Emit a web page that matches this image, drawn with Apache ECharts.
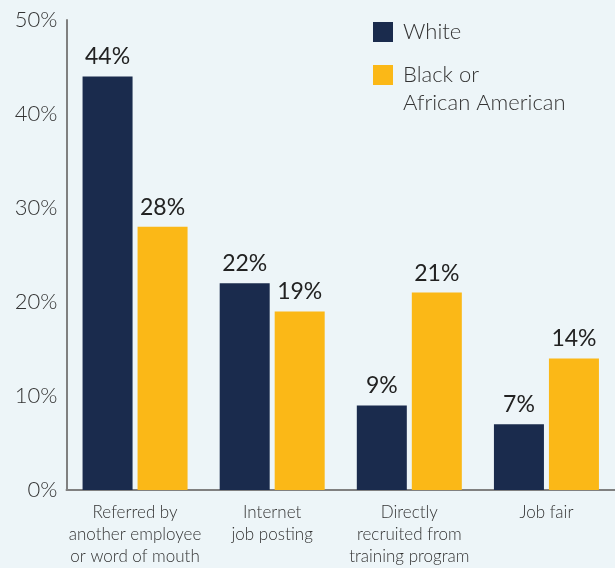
<!DOCTYPE html>
<html>
<head>
<meta charset="utf-8">
<script src="https://cdn.jsdelivr.net/npm/echarts@6/dist/echarts.min.js"></script>
<style>
html, body { margin: 0; padding: 0; background: #edf5f8; }
#main { width: 615px; height: 568px; }
</style>
</head>
<body>
<div id="main"></div>
<script>
// data
var categories = ['Referred by\nanother employee\nor word of mouth', 'Internet\njob posting', 'Directly\nrecruited from\ntraining program', 'Job fair'];
var whiteValues = [44, 22, 9, 7];
var blackValues = [28, 19, 21, 14];
var yTicks = [0, 10, 20, 30, 40, 50];

var chart = echarts.init(document.getElementById('main'));
var font = 'Lato, "Noto Sans", sans-serif';

var option = {
    backgroundColor: '#edf5f8',
    animation: false,
    color: ['#1a2b4d', '#fbb817'],
    legend: [{
        data: ['White'],
        left: 373,
        top: 18,
        padding: 0,
        itemWidth: 20,
        itemHeight: 20,
        icon: 'rect',
        textStyle: { fontFamily: font, fontSize: 22, fontWeight: 300, color: '#333', lineHeight: 28, padding: [0, 0, 0, 5] }
    }, {
        data: ['Black or African American'],
        left: 373,
        top: 33,
        padding: 0,
        itemWidth: 20,
        itemHeight: 20,
        icon: 'rect',
        // empty first line so the square sits beside "Black or"
        formatter: function (n) { return '\nBlack or\nAfrican American'; },
        textStyle: { fontFamily: font, fontSize: 22, fontWeight: 300, color: '#333', lineHeight: 28, padding: [0, 0, 0, 5] }
    }],
    grid: { left: 66.5, right: -2.5, top: 20, bottom: 76 },
    xAxis: {
        type: 'category',
        data: categories,
        axisLine: { lineStyle: { color: '#808080', width: 2 } },
        axisTick: { show: false },
        axisLabel: { fontFamily: font, fontSize: 17, fontWeight: 300, color: '#333', lineHeight: 22, margin: 12, interval: 0 }
    },
    yAxis: {
        type: 'value',
        min: yTicks[0],
        max: yTicks[yTicks.length - 1],
        interval: 10,
        axisLine: { show: true, lineStyle: { color: '#808080', width: 2 } },
        axisTick: { show: false },
        splitLine: { show: false },
        axisLabel: { fontFamily: font, fontSize: 22, fontWeight: 300, color: '#333', margin: 9, formatter: '{value}%' }
    },
    series: [{
        name: 'White',
        type: 'bar',
        data: whiteValues,
        barWidth: 50,
        barGap: '10%',
        label: { show: true, position: 'top', distance: 8, fontFamily: font, fontSize: 23, color: '#222', formatter: '{c}%' }
    }, {
        name: 'Black or African American',
        type: 'bar',
        data: blackValues,
        barWidth: 50,
        barGap: '10%',
        label: { show: true, position: 'top', distance: 8, fontFamily: font, fontSize: 23, color: '#222', formatter: '{c}%' }
    }]
};
chart.setOption(option);
</script>
</body>
</html>
